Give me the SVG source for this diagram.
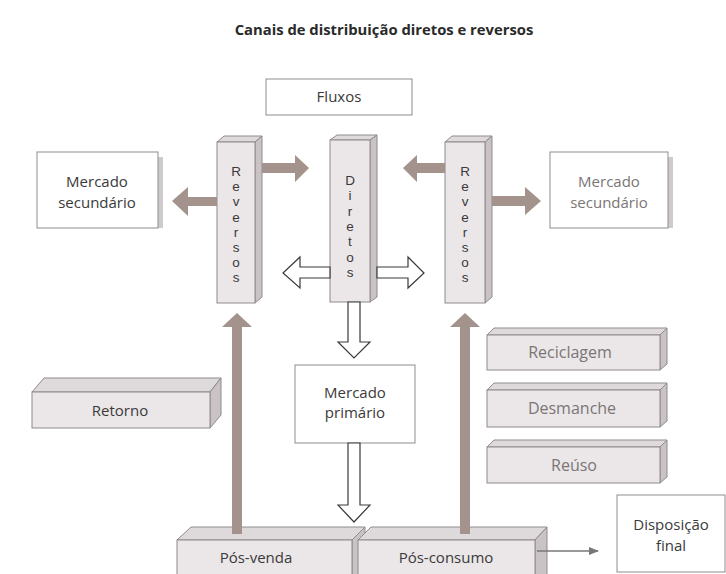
<svg xmlns="http://www.w3.org/2000/svg" width="726" height="574" viewBox="0 0 726 574">
<defs>
<style>
.t{font-family:"Open Sans","Noto Sans","Liberation Sans",sans-serif;font-size:15px;fill:#3a3a3a;text-anchor:middle}
.tl{fill:#7a7676}
.big{font-size:16px}
.v{font-family:"Liberation Sans",Arial,sans-serif;font-size:13.5px;fill:#3a3a3a;text-anchor:middle}
.title{font-family:"Open Sans","Noto Sans","Liberation Sans",sans-serif;font-size:14.8px;font-weight:bold;fill:#2a2a2a;text-anchor:middle}
.box{fill:#fff;stroke:#8f8b8c;stroke-width:1}
.shadow{fill:#cfcacc}
.front{fill:#ebe6e8;stroke:#8f8a8c;stroke-width:1}
.top{fill:#dedadc;stroke:#8f8a8c;stroke-width:1}
.side{fill:#c9c3c6;stroke:#8f8a8c;stroke-width:1}
.brown{fill:#a3938c}
.hollow{fill:#fff;stroke:#3a3a3a;stroke-width:1.2}
.thin{stroke:#777;stroke-width:1.3;fill:none}
</style>
<marker id="ah" markerWidth="10" markerHeight="8" refX="9" refY="4" orient="auto" markerUnits="userSpaceOnUse">
<path d="M0,0 L10,4 L0,8 Z" fill="#777"/>
</marker>
</defs>
<rect width="726" height="574" fill="#fff"/>
<text class="title" x="384" y="35">Canais de distribuição diretos e reversos</text>

<g id="fluxos">
<rect class="box" x="266" y="79" width="146" height="36"/>
<text class="t" x="339" y="102">Fluxos</text>
</g>

<g id="mercado-secundario-esq">
<rect class="shadow" x="158" y="157" width="5" height="71"/>
<rect class="box" x="37" y="152" width="121" height="76"/>
<text class="t" x="97" y="187">Mercado</text>
<text class="t" x="97" y="208">secundário</text>
</g>

<g id="mercado-secundario-dir">
<rect class="shadow" x="668" y="157" width="5" height="71"/>
<rect class="box" x="550" y="152" width="118" height="76"/>
<text class="t tl" x="609" y="187">Mercado</text>
<text class="t tl" x="609" y="208">secundário</text>
</g>

<g id="reversos-esq">
<polygon class="top" points="217,142 224,136 262,136 255,142"/>
<polygon class="side" points="255,142 262,136 262,297 255,303"/>
<rect class="front" x="217" y="142" width="38" height="161"/>
<text class="v" x="236" y="176">R</text>
<text class="v" x="236" y="191.2">e</text>
<text class="v" x="236" y="206.4">v</text>
<text class="v" x="236" y="221.6">e</text>
<text class="v" x="236" y="236.8">r</text>
<text class="v" x="236" y="252">s</text>
<text class="v" x="236" y="267.2">o</text>
<text class="v" x="236" y="282.4">s</text>
</g>

<g id="diretos">
<polygon class="top" points="330,140 337,135 377,135 370,140"/>
<polygon class="side" points="370,140 377,135 377,297 370,302"/>
<rect class="front" x="330" y="140" width="40" height="162"/>
<text class="v" x="350" y="185">D</text>
<text class="v" x="350" y="200.3">i</text>
<text class="v" x="350" y="215.6">r</text>
<text class="v" x="350" y="230.9">e</text>
<text class="v" x="350" y="246.2">t</text>
<text class="v" x="350" y="261.5">o</text>
<text class="v" x="350" y="276.8">s</text>
</g>

<g id="reversos-dir">
<polygon class="top" points="445,142 452,136 492,136 485,142"/>
<polygon class="side" points="485,142 492,136 492,297 485,303"/>
<rect class="front" x="445" y="142" width="40" height="161"/>
<text class="v" x="465" y="176">R</text>
<text class="v" x="465" y="191.2">e</text>
<text class="v" x="465" y="206.4">v</text>
<text class="v" x="465" y="221.6">e</text>
<text class="v" x="465" y="236.8">r</text>
<text class="v" x="465" y="252">s</text>
<text class="v" x="465" y="267.2">o</text>
<text class="v" x="465" y="282.4">s</text>
</g>

<g id="mercado-primario">
<rect class="box" x="295" y="365" width="120" height="78"/>
<text class="t" x="355" y="398">Mercado</text>
<text class="t" x="355" y="418">primário</text>
</g>

<g id="retorno">
<polygon class="top" points="32,392 44,378 221,378 210,392"/>
<polygon class="side" points="210,392 221,378 221,415 210,428"/>
<rect class="front" x="32" y="392" width="178" height="36"/>
<text class="t" x="120" y="416">Retorno</text>
</g>

<g id="reciclagem">
<polygon class="top" points="487,335 494,328 667,328 660,335"/>
<polygon class="side" points="660,335 667,328 667,364 660,370"/>
<rect class="front" x="487" y="335" width="173" height="35"/>
<text class="t tl big" x="570" y="358">Reciclagem</text>
</g>

<g id="desmanche">
<polygon class="top" points="487,390 494,383 667,383 660,390"/>
<polygon class="side" points="660,390 667,383 667,421 660,427"/>
<rect class="front" x="487" y="390" width="173" height="37"/>
<text class="t tl big" x="572" y="414">Desmanche</text>
</g>

<g id="reuso">
<polygon class="top" points="487,447 494,440 667,440 660,447"/>
<polygon class="side" points="660,447 667,440 667,477 660,483"/>
<rect class="front" x="487" y="447" width="173" height="36"/>
<text class="t tl big" x="574" y="471">Reúso</text>
</g>

<g id="pos-venda">
<polygon class="top" points="177,540 191,527 365,527 352,540"/>
<polygon class="side" points="352,540 365,527 365,580 352,580"/>
<rect class="front" x="177" y="540" width="175" height="40"/>
<text class="t" x="256" y="563">Pós-venda</text>
</g>

<g id="pos-consumo">
<polygon class="top" points="358,540 371,527 547,527 535,540"/>
<polygon class="side" points="535,540 547,527 547,580 535,580"/>
<rect class="front" x="358" y="540" width="177" height="40"/>
<text class="t" x="446" y="563">Pós-consumo</text>
</g>

<g id="disposicao-final">
<rect class="box" x="617" y="495" width="108" height="77"/>
<text class="t" x="671" y="530">Disposição</text>
<text class="t" x="671" y="551">final</text>
</g>

<g id="connectors">
<polygon class="brown" points="217,197 188,197 188,187 172,201 188,216 188,206 217,206"/>
<polygon class="brown" points="262,163 295,163 295,155 309,168 295,182 295,173 262,173"/>
<polygon class="brown" points="445,163 417,163 417,155 403,168 417,182 417,173 445,173"/>
<polygon class="brown" points="492,196 525,196 525,187 541,201 525,215 525,206 492,206"/>
<polygon class="brown" points="232,534 232,327 222,327 237,313 252,327 242,327 242,534"/>
<polygon class="brown" points="460,534 460,327 450,327 465,313 480,327 470,327 470,534"/>
<polygon class="hollow" points="330,267 300,267 300,257 283,273 300,288 300,278 330,278"/>
<polygon class="hollow" points="377,267 408,267 408,257 424,273 408,288 408,278 377,278"/>
<polygon class="hollow" points="348,302 348,342 338,342 354,358 370,342 360,342 360,302"/>
<polygon class="hollow" points="348,443 348,505 338,505 354,522 370,505 360,505 360,443"/>
<line class="thin" x1="537" y1="551" x2="598" y2="551" marker-end="url(#ah)"/>
</g>
</svg>
